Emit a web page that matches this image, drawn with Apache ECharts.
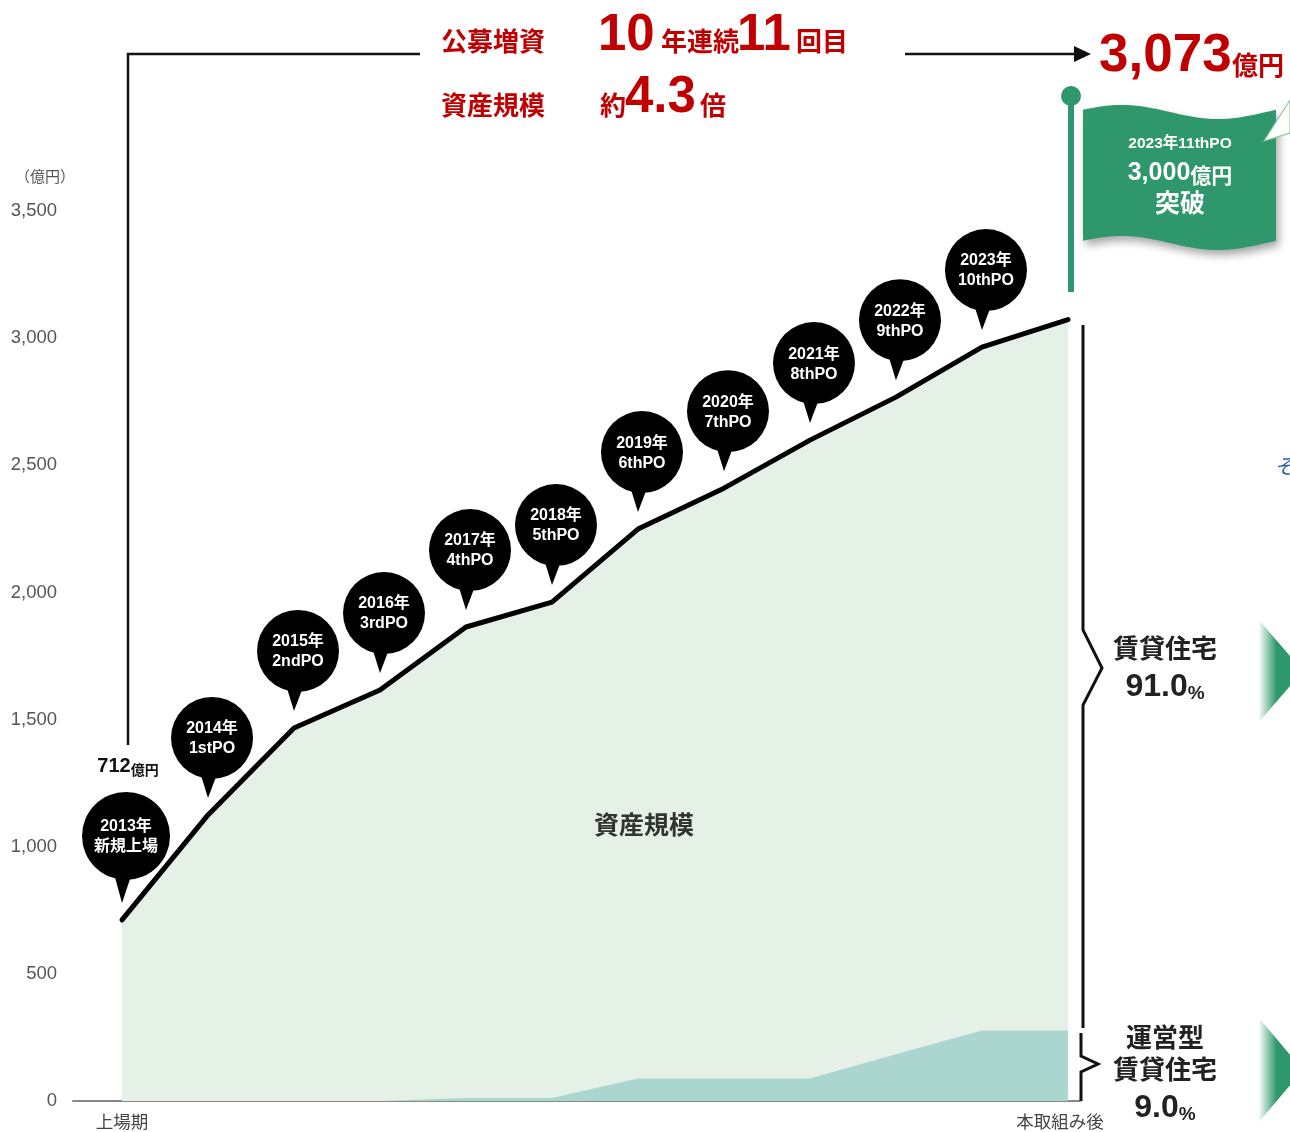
<!DOCTYPE html>
<html>
<head>
<meta charset="utf-8">
<script src="https://cdn.jsdelivr.net/npm/echarts@6/dist/echarts.min.js"></script>
<style>
  html, body { margin: 0; padding: 0; background: #fff; }
  #chart { width: 1290px; height: 1132px; }
</style>
</head>
<body>
<div id="chart"></div>
<script>
// Asset scale history (億円): listing period, each public offering, and after this offering
const periods = ['上場期', '1stPO', '2ndPO', '3rdPO', '4thPO', '5thPO', '6thPO', '7thPO', '8thPO', '9thPO', '10thPO', '本取組み後'];
const totalAssets = [712, 1125, 1467, 1616, 1864, 1962, 2249, 2410, 2599, 2768, 2965, 3073];
const operatedRental = [0, 0, 0, 0, 12, 12, 88, 88, 88, 184, 277, 277];

// Pin captions for each offering
const pinYears = ['2013年', '2014年', '2015年', '2016年', '2017年', '2018年', '2019年', '2020年', '2021年', '2022年', '2023年'];
const pinEvents = ['新規上場', '1stPO', '2ndPO', '3rdPO', '4thPO', '5thPO', '6thPO', '7thPO', '8thPO', '9thPO', '10thPO'];

// Axis labels
const xTickIndex = [0, 11];
const xTickLabels = ['上場期', '本取組み後'];
const yMin = 0, yMax = 3500, yStep = 500;

const LATIN = '"Liberation Sans", Arial, "Noto Sans CJK JP", sans-serif';
const CJK = '"Noto Sans CJK JP", "Liberation Sans", sans-serif';
const RED = '#c00000';
const GREEN = '#2e976b';

const lastIdx = totalAssets.length - 1;
const fmt = v => v.toLocaleString('en-US');
const growth = (totalAssets[lastIdx] / totalAssets[0]).toFixed(1);
const operatedShare = operatedRental[lastIdx] / totalAssets[lastIdx] * 100;
const rentalShare = 100 - operatedShare;

function renderPin(params, api) {
  const i = params.dataIndex;
  const p = api.coord([api.value(0), api.value(1)]);
  const first = i === 0;
  const r = first ? 44 : 41;
  const tipX = p[0], tipY = p[1] - 17;
  const cx = p[0] + 4, cy = p[1] - (first ? 84 : 77);
  const children = [
    { type: 'circle', shape: { cx: cx, cy: cy, r: r }, style: { fill: '#000' } },
    { type: 'polygon', shape: { points: [[cx - 13, cy + r - 10], [cx + 7, cy + r - 10], [tipX, tipY]] }, style: { fill: '#000' } },
    { type: 'text', style: {
        text: pinYears[i] + '\n' + pinEvents[i], x: cx, y: cy + 1,
        align: 'center', verticalAlign: 'middle', fill: '#fff',
        fontSize: 16, fontWeight: 'bold', fontFamily: LATIN, lineHeight: 20 } }
  ];
  if (first) {
    children.push({ type: 'text', style: {
      text: '{v|' + fmt(api.value(1)) + '}{u|億円}', x: p[0] + 6, y: p[1] - 155,
      align: 'center', verticalAlign: 'middle',
      rich: {
        v: { fontSize: 20, fontWeight: 'bold', fontFamily: LATIN, fill: '#111', color: '#111', verticalAlign: 'bottom', lineHeight: 24 },
        u: { fontSize: 14, fontWeight: 'bold', fontFamily: CJK, fill: '#111', color: '#111', verticalAlign: 'bottom', lineHeight: 22 }
      } } });
  }
  return { type: 'group', children: children };
}

function flagOutline() {
  const pts = [];
  const x0 = 1083, x1 = 1276, n = 40;
  const wave = t => 112 - 7 * Math.sin(2 * Math.PI * t + 0.1 * Math.PI);
  for (let k = 0; k <= n; k++) { const t = k / n; pts.push([x0 + t * (x1 - x0), wave(t)]); }
  for (let k = n; k >= 0; k--) { const t = k / n; pts.push([x0 + t * (x1 - x0), wave(t) + 131]); }
  return pts;
}

function txt(x, y, text, size, color, opts) {
  opts = opts || {};
  return {
    type: 'text', x: x, y: y, z: 100,
    style: Object.assign({
      text: text, fill: color, fontSize: size, fontWeight: 'bold', fontFamily: CJK,
      align: 'left', verticalAlign: 'middle'
    }, opts)
  };
}

const fadeArrow = (top, bottom) => ({
  type: 'polygon', z: 100,
  shape: { points: [[1259, top], [1303, (top + bottom) / 2], [1259, bottom]] },
  style: { fill: new echarts.graphic.LinearGradient(0, 0, 1, 0, [
    { offset: 0, color: 'rgba(46,151,107,0.03)' },
    { offset: 0.4, color: GREEN },
    { offset: 1, color: GREEN }
  ]) }
});

const percentRich = {
  n: { fontSize: 32, fontWeight: 'bold', fontFamily: LATIN, fill: '#222', color: '#222', verticalAlign: 'bottom', lineHeight: 35 },
  p: { fontSize: 19, fontWeight: 'bold', fontFamily: LATIN, fill: '#222', color: '#222', verticalAlign: 'bottom', lineHeight: 30 }
};

const chart = echarts.init(document.getElementById('chart'), null, { renderer: 'canvas' });

chart.setOption({
  animation: false,
  backgroundColor: '#fff',
  grid: { left: 73, right: 210, top: 211, bottom: 31 },
  xAxis: {
    type: 'value', min: -0.57, max: 11.14,
    axisLine: { show: true, lineStyle: { color: '#888', width: 2 } },
    axisTick: { show: false },
    splitLine: { show: false },
    axisLabel: {
      customValues: xTickIndex,
      formatter: v => {
        const k = xTickIndex.indexOf(v);
        return k === 0 ? '{a|' + xTickLabels[k] + '}' : '{b|' + xTickLabels[k] + '}';
      },
      margin: 12,
      rich: {
        a: { color: '#444', fontSize: 17.5, fontFamily: CJK },
        b: { color: '#444', fontSize: 17.5, fontFamily: CJK, padding: [0, 16, 0, 0] }
      }
    }
  },
  yAxis: {
    type: 'value', min: yMin, max: yMax, interval: yStep,
    axisLine: { show: false }, axisTick: { show: false }, splitLine: { show: false },
    axisLabel: { color: '#555', fontSize: 18.5, fontFamily: LATIN, margin: 16, padding: [5, 0, 0, 0], formatter: v => fmt(v) }
  },
  series: [
    {
      type: 'line', name: '資産規模',
      data: totalAssets.map((v, i) => [i, v]),
      symbol: 'none', z: 2,
      lineStyle: { color: '#000', width: 5, cap: 'round', join: 'round' },
      areaStyle: { color: '#e5f0e7', opacity: 1 }
    },
    {
      type: 'line', name: '運営型賃貸住宅',
      data: operatedRental.map((v, i) => [i, v]),
      symbol: 'none', z: 3,
      lineStyle: { width: 0 },
      areaStyle: { color: '#abd5cf', opacity: 1 }
    },
    {
      type: 'custom', name: 'pins', z: 5, clip: false,
      data: totalAssets.slice(0, pinYears.length).map((v, i) => [i, v]),
      encode: { x: 0, y: 1 },
      renderItem: renderPin
    }
  ],
  graphic: [
    // unit label
    txt(45, 176, '（億円）', 15, '#555', { align: 'center', fontWeight: 'normal' }),
    // bracket from the listing value to the headline
    { type: 'polyline', z: 100, shape: { points: [[128, 745], [128, 54], [420, 54]] },
      style: { stroke: '#111', lineWidth: 2.5, fill: null } },
    { type: 'line', z: 100, shape: { x1: 905, y1: 54, x2: 1078, y2: 54 }, style: { stroke: '#111', lineWidth: 2.5 } },
    { type: 'polygon', z: 100, shape: { points: [[1074, 46], [1091, 54], [1074, 62]] }, style: { fill: '#111' } },
    // headline
    txt(493, 41, '公募増資', 26, RED, { align: 'center' }),
    txt(598, 36, '10', 51, RED, { fontFamily: LATIN }),
    txt(661, 41, '年連続', 26, RED),
    txt(737, 36, '11', 51, RED, { fontFamily: LATIN }),
    txt(796, 41, '回目', 26, RED),
    txt(493, 105, '資産規模', 26, RED, { align: 'center' }),
    txt(600, 105, '約', 26, RED),
    txt(625, 98, growth, 51, RED, { fontFamily: LATIN }),
    txt(700, 105, '倍', 26, RED),
    txt(1099, 56, fmt(totalAssets[lastIdx]), 53, RED, { fontFamily: LATIN }),
    txt(1232, 65, '億円', 26, RED),
    // flag
    { type: 'polygon', z: 100, shape: { points: flagOutline() },
      style: { fill: GREEN, shadowBlur: 8, shadowColor: 'rgba(0,0,0,0.35)', shadowOffsetX: 3, shadowOffsetY: 5 } },
    { type: 'polygon', z: 100, shape: { points: [[1290, 100], [1264, 141], [1290, 133]] },
      style: { fill: '#fff', stroke: '#8cc9a5', lineWidth: 1.2 } },
    { type: 'rect', z: 100, shape: { x: 1068, y: 98, width: 6, height: 194 }, style: { fill: GREEN } },
    { type: 'circle', z: 100, shape: { cx: 1071, cy: 96, r: 10 }, style: { fill: GREEN } },
    txt(1180, 144, '2023年11thPO', 15.5, '#fff', { align: 'center', fontFamily: LATIN }),
    { type: 'text', x: 1180, y: 172, z: 100, style: {
        text: '{n|3,000}{u|億円}', align: 'center', verticalAlign: 'middle',
        rich: {
          n: { fontSize: 25, fontWeight: 'bold', fontFamily: LATIN, fill: '#fff', color: '#fff', verticalAlign: 'bottom', lineHeight: 28 },
          u: { fontSize: 21, fontWeight: 'bold', fontFamily: CJK, fill: '#fff', color: '#fff', verticalAlign: 'bottom', lineHeight: 27 }
        } } },
    txt(1180, 202, '突破', 25, '#fff', { align: 'center' }),
    // middle caption
    txt(644, 824, '資産規模', 25, '#333', { align: 'center' }),
    // braces
    { type: 'polyline', z: 100, shape: { points: [[1083, 325], [1083, 630], [1102, 668], [1083, 705], [1083, 1028]] },
      style: { stroke: '#111', lineWidth: 3, fill: null } },
    { type: 'polyline', z: 100, shape: { points: [[1081, 1033], [1081, 1056], [1098, 1064], [1081, 1072], [1081, 1101]] },
      style: { stroke: '#111', lineWidth: 3, fill: null } },
    // share captions
    txt(1165, 648, '賃貸住宅', 26, '#222', { align: 'center' }),
    { type: 'text', x: 1165, y: 686, z: 100, style: {
        text: '{n|' + rentalShare.toFixed(1) + '}{p|%}', align: 'center', verticalAlign: 'middle', rich: percentRich } },
    txt(1165, 1037, '運営型', 26, '#222', { align: 'center' }),
    txt(1165, 1069, '賃貸住宅', 26, '#222', { align: 'center' }),
    { type: 'text', x: 1165, y: 1107, z: 100, style: {
        text: '{n|' + operatedShare.toFixed(1) + '}{p|%}', align: 'center', verticalAlign: 'middle', rich: percentRich } },
    // arrows towards the next panel
    fadeArrow(620, 722),
    fadeArrow(1018, 1122),
    txt(1274, 466, 'そ', 21, '#2f64a3', { fontWeight: 'normal', fontStyle: 'italic' })
  ]
});
</script>
</body>
</html>
